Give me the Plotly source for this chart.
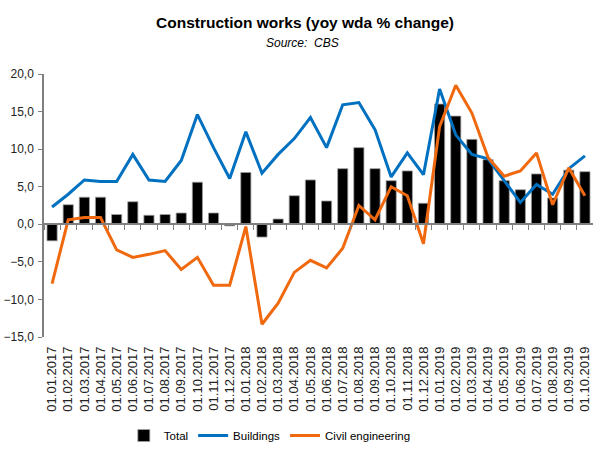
import plotly.graph_objects as go

dates = ["01.01.2017","01.02.2017","01.03.2017","01.04.2017","01.05.2017","01.06.2017",
         "01.07.2017","01.08.2017","01.09.2017","01.10.2017","01.11.2017","01.12.2017",
         "01.01.2018","01.02.2018","01.03.2018","01.04.2018","01.05.2018","01.06.2018",
         "01.07.2018","01.08.2018","01.09.2018","01.10.2018","01.11.2018","01.12.2018",
         "01.01.2019","01.02.2019","01.03.2019","01.04.2019","01.05.2019","01.06.2019",
         "01.07.2019","01.08.2019","01.09.2019","01.10.2019"]

total = [-2.2, 2.6, 3.6, 3.6, 1.3, 3.0, 1.2, 1.3, 1.5, 5.6, 1.5, -0.2,
         6.9, -1.7, 0.7, 3.8, 5.9, 3.1, 7.4, 10.2, 7.4, 5.8, 7.1, 2.8,
         16.0, 14.4, 11.3, 8.6, 5.8, 4.6, 6.7, 3.5, 7.2, 7.0]

buildings = [2.3, 4.0, 5.9, 5.7, 5.7, 9.3, 5.9, 5.7, 8.5, 14.6, 10.2, 6.1,
             12.3, 6.8, 9.3, 11.4, 14.2, 10.2, 15.9, 16.2, 12.6, 6.3, 9.5, 6.6,
             18.0, 11.9, 9.3, 8.7, 5.8, 2.9, 5.3, 4.0, 7.4, 9.1]

civil = [-7.9, 0.6, 0.9, 0.9, -3.4, -4.4, -4.0, -3.5, -6.0, -4.4, -8.1, -8.1,
         -0.3, -13.3, -10.5, -6.4, -4.8, -5.8, -3.2, 2.5, 0.6, 5.0, 3.8, -2.6,
         13.0, 18.5, 14.8, 8.9, 6.4, 7.1, 9.5, 2.6, 7.5, 3.8]

FONT = "Liberation Sans, Arial, sans-serif"

fig = go.Figure()
fig.add_trace(go.Bar(x=dates, y=total, name="Total",
                     marker=dict(color="black", line=dict(color="#a0a0a0", width=0.8))))
fig.add_trace(go.Scatter(x=dates, y=buildings, name="Buildings", mode="lines",
                         line=dict(color="#0070C0", width=3)))
fig.add_trace(go.Scatter(x=dates, y=civil, name="Civil engineering", mode="lines",
                         line=dict(color="#F0690F", width=3)))
# invisible trace for the zero-line axis with boundary ticks
fig.add_trace(go.Scatter(x=dates, y=[None]*len(dates), xaxis="x2", showlegend=False,
                         hoverinfo="skip"))

fig.update_layout(
    width=593, height=450,
    margin=dict(l=44, r=0, t=74, b=113, autoexpand=False),
    plot_bgcolor="white", paper_bgcolor="white",
    separators=", ",
    bargap=0.37,
    font=dict(family=FONT, size=12, color="black"),
    showlegend=True,
    legend=dict(orientation="h", xref="container", yref="container",
                x=0.455, xanchor="center", y=0.0, yanchor="bottom",
                font=dict(family=FONT, size=11.5), itemwidth=30, tracegroupgap=0),
    xaxis=dict(type="category", showline=False, ticks="", showgrid=False,
               tickangle=-90, tickfont=dict(family=FONT, size=13, color="#222"),
               ticklabelstandoff=6,
               range=[-0.5, 33.5], automargin=False),
    xaxis2=dict(type="category", overlaying="x", anchor="free", position=15/35,
                showline=True, linecolor="#808080", linewidth=1.5,
                ticks="outside", tickson="boundaries", ticklen=5, tickcolor="#808080",
                showticklabels=False, showgrid=False, range=[-0.5, 33.5],
                automargin=False),
    yaxis=dict(range=[-15, 20], tickvals=[-15, -10, -5, 0, 5, 10, 15, 20],
               tickformat=".1f", showgrid=False, zeroline=False,
               showline=True, linecolor="#808080", linewidth=1.5,
               ticks="outside", ticklen=4, tickcolor="#808080",
               ticklabelstandoff=2,
               tickfont=dict(family=FONT, size=12, color="#222"), automargin=False),
    annotations=[
        dict(text="<b>Construction works (yoy wda % change)</b>", xref="paper", yref="paper",
             x=0.475, y=1, yshift=52, xanchor="center", yanchor="middle", showarrow=False,
             font=dict(family=FONT, size=15.5)),
        dict(text="<i>Source:  CBS</i>", xref="paper", yref="paper",
             x=0.47, y=1, yshift=31, xanchor="center", yanchor="middle", showarrow=False,
             font=dict(family=FONT, size=12)),
    ],
)

fig.write_html("out.html", config={"displayModeBar": False},
               post_script="document.body.style.margin='0';document.body.style.overflow='hidden';")
